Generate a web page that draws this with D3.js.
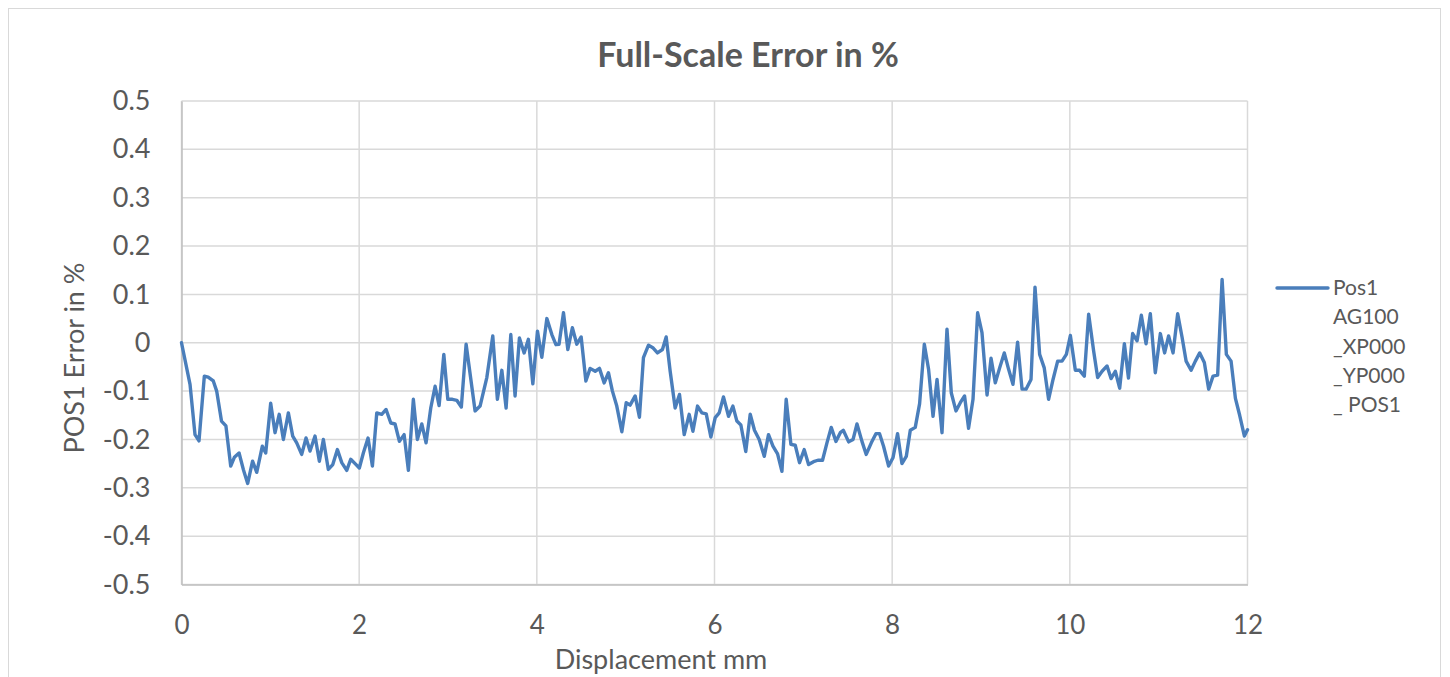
<!DOCTYPE html>
<html><head><meta charset="utf-8">
<script src="https://cdn.jsdelivr.net/npm/d3@7"></script>
<style>body{margin:0;background:#fff;}svg{display:block;font-family:Lato,"Open Sans",sans-serif;}</style>
</head><body><svg id="c" width="1450" height="677"></svg>
<script>
const title = "Full-Scale Error in %";
const xTitle = "Displacement mm";
const yTitle = "POS1 Error in %";
const legendLines = ["Pos1", "AG100", "_XP000", "_YP000", "_ POS1"];
const xTicks = [0, 2, 4, 6, 8, 10, 12];
const yTicks = [0.5, 0.4, 0.3, 0.2, 0.1, 0, -0.1, -0.2, -0.3, -0.4, -0.5];
const xs = [0,0.096,0.152,0.197,0.257,0.30,0.358,0.396,0.45,0.50,0.554,0.595,0.648,0.696,0.745,0.80,0.847,0.91,0.948,1.004,
1.053,1.10,1.147,1.203,1.252,1.297,1.353,1.402,1.447,1.503,1.552,1.597,1.653,1.703,1.755,1.804,1.86,1.905,1.954,2.002,
2.047,2.10,2.149,2.198,2.254,2.303,2.356,2.404,2.453,2.506,2.554,2.61,2.655,2.705,2.753,2.806,2.855,2.90,2.953,2.998,
3.05,3.099,3.15,3.204,3.305,3.361,3.437,3.504,3.556,3.606,3.654,3.707,3.755,3.804,3.857,3.905,3.955,4.007,4.056,4.113,
4.169,4.215,4.25,4.30,4.349,4.40,4.45,4.499,4.552,4.60,4.657,4.705,4.758,4.806,4.851,4.90,4.957,5.006,5.05,5.107,
5.155,5.20,5.257,5.31,5.358,5.414,5.456,5.501,5.557,5.606,5.659,5.715,5.757,5.809,5.858,5.907,5.959,6.008,6.053,6.101,
6.158,6.207,6.252,6.297,6.352,6.402,6.45,6.503,6.56,6.608,6.658,6.71,6.759,6.807,6.86,6.909,6.957,7.01,7.059,7.115,
7.164,7.216,7.266,7.314,7.367,7.416,7.45,7.51,7.56,7.604,7.66,7.708,7.765,7.817,7.858,7.903,7.96,8.009,8.061,8.11,
8.159,8.204,8.26,8.309,8.362,8.41,8.46,8.505,8.561,8.617,8.666,8.718,8.767,8.815,8.86,8.91,8.962,9.011,9.068,9.113,
9.161,9.21,9.262,9.311,9.36,9.412,9.462,9.507,9.563,9.608,9.66,9.712,9.761,9.811,9.863,9.912,9.961,10.006,10.062,10.11,
10.163,10.212,10.268,10.313,10.363,10.419,10.464,10.512,10.561,10.614,10.66,10.707,10.757,10.805,10.858,10.906,10.962,11.019,11.067,11.112,
11.162,11.214,11.263,11.309,11.365,11.413,11.462,11.514,11.563,11.612,11.664,11.714,11.762,11.815,11.864,11.912,11.965,12.0];
const pos1 = [0,-0.086,-0.19,-0.203,-0.069,-0.071,-0.079,-0.10,-0.162,-0.172,-0.255,-0.237,-0.228,-0.262,-0.291,-0.245,-0.268,-0.214,-0.228,-0.125,
-0.186,-0.148,-0.20,-0.145,-0.193,-0.207,-0.231,-0.197,-0.224,-0.193,-0.245,-0.20,-0.262,-0.252,-0.221,-0.248,-0.264,-0.241,-0.25,-0.259,
-0.228,-0.197,-0.255,-0.145,-0.148,-0.138,-0.166,-0.168,-0.204,-0.19,-0.264,-0.117,-0.20,-0.168,-0.207,-0.135,-0.09,-0.13,-0.024,-0.117,
-0.117,-0.119,-0.133,-0.003,-0.141,-0.131,-0.072,0.014,-0.117,-0.057,-0.135,0.017,-0.11,0.010,-0.021,0.007,-0.085,0.024,-0.030,0.05,
0.017,-0.004,-0.003,0.062,-0.014,0.031,-0.003,0.012,-0.079,-0.053,-0.059,-0.053,-0.083,-0.062,-0.10,-0.131,-0.184,-0.124,-0.129,-0.11,
-0.154,-0.031,-0.005,-0.011,-0.021,-0.014,0.012,-0.059,-0.135,-0.107,-0.19,-0.148,-0.183,-0.131,-0.145,-0.147,-0.195,-0.155,-0.145,-0.112,
-0.152,-0.131,-0.162,-0.170,-0.225,-0.148,-0.181,-0.20,-0.235,-0.19,-0.214,-0.23,-0.266,-0.117,-0.21,-0.212,-0.248,-0.221,-0.252,-0.246,
-0.243,-0.243,-0.207,-0.175,-0.204,-0.186,-0.181,-0.205,-0.20,-0.168,-0.204,-0.231,-0.207,-0.188,-0.188,-0.214,-0.255,-0.238,-0.188,-0.25,
-0.235,-0.181,-0.175,-0.126,-0.003,-0.055,-0.152,-0.076,-0.186,0.028,-0.104,-0.141,-0.124,-0.11,-0.177,-0.117,0.062,0.021,-0.108,-0.032,
-0.083,-0.052,-0.021,-0.055,-0.086,0.001,-0.096,-0.096,-0.076,0.115,-0.024,-0.052,-0.117,-0.076,-0.038,-0.038,-0.024,0.015,-0.057,-0.057,
-0.069,0.059,-0.017,-0.072,-0.059,-0.048,-0.074,-0.059,-0.094,-0.002,-0.073,0.019,0.004,0.057,-0.002,0.060,-0.062,0.019,-0.021,0.014,
-0.021,0.060,0.012,-0.038,-0.057,-0.038,-0.021,-0.041,-0.096,-0.069,-0.067,0.131,-0.024,-0.038,-0.115,-0.15,-0.193,-0.18];

const svg = d3.select("#c");
const m = {left: 181.5, right: 1247.5, top: 101, bottom: 584.5};
const x = d3.scaleLinear().domain([0, 12]).range([m.left, m.right]);
const y = d3.scaleLinear().domain([-0.5, 0.5]).range([m.bottom, m.top]);
const textCol = "#595959", gridCol = "#d9d9d9";

svg.append("rect").attr("x", 8.5).attr("y", 8.5).attr("width", 1432).attr("height", 700)
  .attr("fill", "#fff").attr("stroke", "#d9d9d9").attr("stroke-width", 1);

// gridlines
svg.append("g").selectAll("line").data(yTicks).join("line")
  .attr("x1", m.left).attr("x2", m.right).attr("y1", d => y(d)).attr("y2", d => y(d))
  .attr("stroke", gridCol).attr("stroke-width", 1.5);
svg.append("g").selectAll("line").data(xTicks).join("line")
  .attr("x1", d => x(d)).attr("x2", d => x(d)).attr("y1", m.top).attr("y2", m.bottom)
  .attr("stroke", gridCol).attr("stroke-width", 1.5);

// axes
const yAxis = d3.axisLeft(y).tickValues(yTicks).tickSize(0).tickPadding(31).tickFormat(d => String(d));
const gy = svg.append("g").attr("transform", `translate(${m.left},0)`).call(yAxis);
gy.select(".domain").attr("stroke", "#bfbfbf").attr("stroke-width", 1.5);
gy.selectAll("text").attr("fill", textCol).style("font-size", "27px").style("font-family", "Lato, sans-serif");

const xAxis = d3.axisBottom(x).tickValues(xTicks).tickSize(0).tickPadding(31).tickFormat(d => String(d));
const gx = svg.append("g").attr("transform", `translate(0,${m.bottom})`).call(xAxis);
gx.select(".domain").attr("stroke", "#bfbfbf").attr("stroke-width", 1.5);
gx.selectAll("text").attr("fill", textCol).style("font-size", "26px").style("font-family", "Lato, sans-serif");

// line
const data = xs.map((v, i) => [v, pos1[i]]);
svg.append("path").datum(data)
  .attr("fill", "none").attr("stroke", "#4a7ebb").attr("stroke-width", 3.4)
  .attr("stroke-linejoin", "round").attr("stroke-linecap", "round")
  .attr("d", d3.line().x(d => x(d[0])).y(d => y(d[1])));

// titles
svg.append("text").attr("x", 748).attr("y", 67).attr("text-anchor", "middle")
  .attr("fill", textCol).style("font-size", "34px").style("font-weight", "bold").text(title);
svg.append("text").attr("x", 661).attr("y", 669).attr("text-anchor", "middle")
  .attr("fill", textCol).style("font-size", "27px").text(xTitle);
svg.append("text").attr("transform", `translate(84,358) rotate(-90)`).attr("text-anchor", "middle")
  .attr("fill", textCol).style("font-size", "27px").text(yTitle);

// legend
const lg = svg.append("g");
lg.append("line").attr("x1", 1277).attr("x2", 1328).attr("y1", 288).attr("y2", 288)
  .attr("stroke", "#4a7ebb").attr("stroke-width", 3.4).attr("stroke-linecap", "round");
lg.selectAll("text").data(legendLines).join("text")
  .attr("x", 1333).attr("y", (d, i) => 295 + i * 29.3)
  .attr("fill", textCol).style("font-size", "21px").text(d => d);
</script></body></html>
